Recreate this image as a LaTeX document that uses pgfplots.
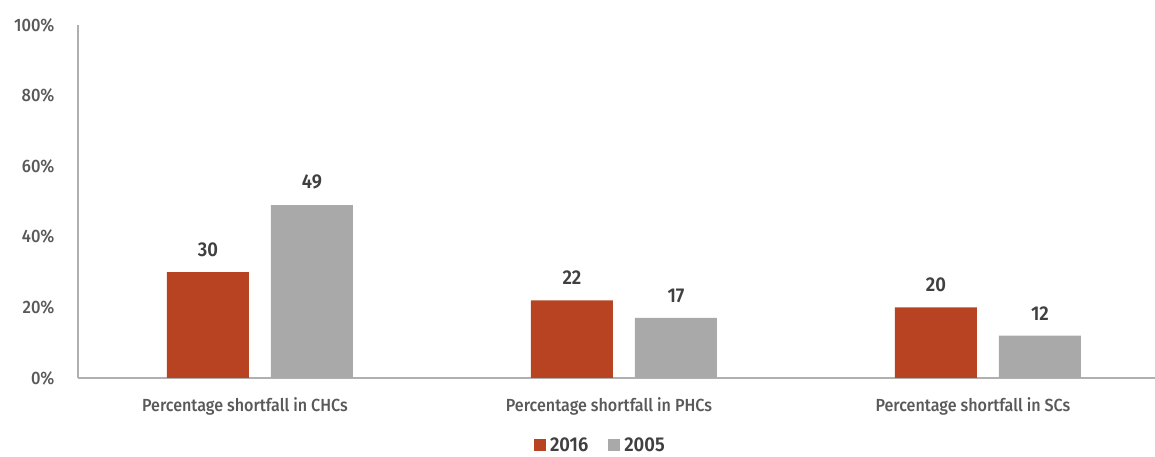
\documentclass[border=0pt]{standalone}
\usepackage{pgfplots}
\pgfplotsset{compat=1.18}
\usepackage{fontspec}
\setmainfont{Fira Sans}[FakeStretch=0.92, UprightFont={* Medium}, BoldFont={* SemiBold}]
\definecolor{cred}{HTML}{B74322}
\definecolor{cgray}{HTML}{A9A9A9}
\definecolor{ctext}{HTML}{595959}
\definecolor{cdark}{HTML}{404040}
\definecolor{caxis}{HTML}{B0B0B0}
\begin{document}
\begin{tikzpicture}[x=1pt,y=1pt]
\useasboundingbox (0,0) rectangle (1155,457);
\begin{axis}[at={(78pt,79pt)}, anchor=south west, scale only axis,
  width=1077pt, height=353pt,
  xmin=-0.5, xmax=2.459, ymin=0, ymax=100,
  axis x line*=bottom, axis y line*=left,
  axis line style={caxis, line width=1.3pt, -},
  ytick={0,20,40,60,80,100},
  yticklabel={\pgfmathprintnumber{\tick}\%},
  /pgf/number format/assume math mode=true,
  yticklabel style={font=\fontsize{18}{18}\selectfont, text=ctext, xshift=-20pt},
  xtick={0,1,2},
  xticklabels={Percentage shortfall in CHCs, Percentage shortfall in PHCs, Percentage shortfall in SCs},
  xticklabel style={font=\fontsize{17.5}{17.5}\selectfont, text=ctext, yshift=-16pt, xshift=-15pt},
  major tick length=0pt,
  ybar, bar width=82pt,
  nodes near coords,
  nodes near coords style={font=\bfseries\fontsize{20}{20}\selectfont, text=cdark, yshift=12pt},
  legend style={at={(0.485,-0.19)}, anchor=center, legend columns=2, draw=none,
    font=\bfseries\fontsize{20}{20}\selectfont, text=cdark,
    /tikz/every even column/.append style={column sep=18pt},
    /tikz/every odd column/.append style={column sep=2pt}},
  legend image code/.code={\path[#1, draw=none] (0pt,-6pt) rectangle (12pt,6pt);},
]
\addplot[fill=cred, draw=none, bar shift=-52pt] coordinates {(0,30) (1,22) (2,20)};
\addplot[fill=cgray, draw=none, bar shift=52pt] coordinates {(0,49) (1,17) (2,12)};
\legend{2016, 2005}
\end{axis}
\end{tikzpicture}
\end{document}
